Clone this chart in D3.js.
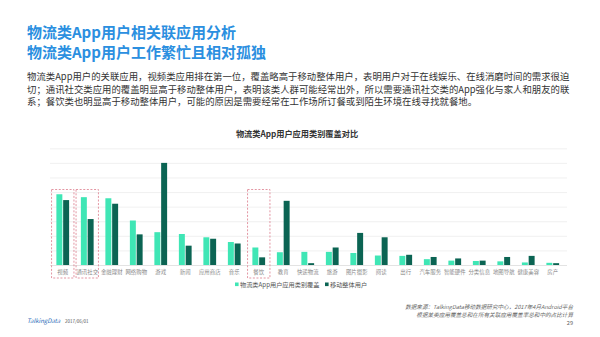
<!DOCTYPE html>
<html>
<head>
<meta charset="utf-8">
<script src="https://cdn.jsdelivr.net/npm/d3@7/dist/d3.min.js"></script>
<style>
  html, body { margin: 0; padding: 0; background: #fff; }
  svg { display: block; font-family: "Noto Sans CJK SC", "Noto Sans", sans-serif; }
</style>
</head>
<body>
<svg id="chart" width="600" height="337"></svg>
<script>
// App categories, in display order
const categories = ["视频", "通讯社交", "金融理财", "网络购物", "游戏", "新闻", "应用商店", "音乐", "餐饮", "教育",
  "快递物流", "旅游", "图片摄影", "阅读", "出行", "汽车服务", "智能硬件", "分类信息", "地图导航", "健康美容", "房产"];

// Coverage share (%) among logistics-app users
const logisticsUsers = [9.7, 9.3, 9.15, 6.1, 4.5, 4.25, 3.8, 3.15, 2.4, 1.75,
  1.8, 1.8, 1.65, 1.3, 1.25, 0.8, 0.6, 0.55, 0.5, 0.35, 0.3];

// Coverage share (%) among all mobile users
const mobileUsers = [8.9, 6.3, 8.4, 4.2, 14.0, 2.65, 3.6, 2.95, 1.05, 8.8,
  0.25, 2.4, 4.4, 3.8, 1.4, 1.1, 0.9, 0.6, 1.1, 1.25, 0.25];

const seriesNames = ["物流类App用户应用类别覆盖", "移动整体用户"];
const highlighted = ["视频", "通讯社交", "餐饮"];
const yTicks = [0, 2, 4, 6, 8, 10, 12, 14, 16];

const svg = d3.select("#chart");
const colors = ["#3fe6b5", "#0b6453"];

// Page headings
const headings = ["物流类App用户相关联应用分析", "物流类App用户工作繁忙且相对孤独"];
svg.selectAll("text.heading").data(headings).join("text")
  .attr("class", "heading")
  .attr("x", 27).attr("y", (d, i) => 38 + i * 19.5)
  .attr("font-size", 15).attr("font-weight", 700)
  .attr("fill", "#2b8fe0")
  .text(d => d);

// Description paragraph
const bodyLines = [
  "物流类App用户的关联应用，视频类应用排在第一位，覆盖略高于移动整体用户，表明用户对于在线娱乐、在线消磨时间的需求很迫",
  "切；通讯社交类应用的覆盖明显高于移动整体用户，表明该类人群可能经常出外，所以需要通讯社交类的App强化与家人和朋友的联",
  "系；餐饮类也明显高于移动整体用户，可能的原因是需要经常在工作场所订餐或到陌生环境在线寻找就餐地。"
];
svg.selectAll("text.body").data(bodyLines).join("text")
  .attr("class", "body")
  .attr("x", 27).attr("y", (d, i) => 80 + i * 12.5)
  .attr("font-size", 9.4)
  .attr("fill", "#333")
  .text(d => d);

// Chart title
svg.append("text")
  .attr("x", 297).attr("y", 137)
  .attr("text-anchor", "middle")
  .attr("font-size", 8.2).attr("font-weight", 700)
  .attr("fill", "#333")
  .text("物流类App用户应用类别覆盖对比");

// Scales
const x = d3.scaleBand().domain(categories).range([50.5, 565]).paddingInner(0).paddingOuter(0);
const y = d3.scaleLinear().domain([0, 16]).range([265, 148.3]);
const inner = d3.scaleBand().domain([0, 1]).range([x.bandwidth() * 0.24, x.bandwidth() * 0.76]).paddingInner(0.12);

// Horizontal gridlines
const grid = svg.append("g")
  .attr("transform", "translate(50,0)")
  .call(d3.axisLeft(y).tickValues(yTicks).tickSize(-517).tickFormat(""));
grid.select(".domain").remove();
grid.selectAll(".tick line").attr("stroke", "#ececec").attr("stroke-width", 0.8);
grid.selectAll(".tick").filter(d => d === 0).select("line").attr("stroke", "#dcdcdc");

// Bars
const rows = categories.map((c, i) => ({ c, v: [logisticsUsers[i], mobileUsers[i]] }));
const groups = svg.append("g").selectAll("g").data(rows).join("g")
  .attr("transform", d => `translate(${x(d.c)},0)`);
groups.selectAll("rect").data(d => d.v.map((v, k) => ({ v, k }))).join("rect")
  .attr("x", d => inner(d.k))
  .attr("width", inner.bandwidth())
  .attr("y", d => y(d.v))
  .attr("height", d => y(0) - y(d.v))
  .attr("fill", d => colors[d.k]);

// Category labels
const xAxis = svg.append("g")
  .attr("transform", `translate(0,${y(0)})`)
  .call(d3.axisBottom(x).tickSize(0).tickPadding(5));
xAxis.select(".domain").remove();
xAxis.selectAll("text")
  .attr("font-size", 5.4)
  .attr("fill", "#8a8a8a")
  .attr("font-family", "Noto Sans CJK SC, sans-serif");

// Dashed highlight boxes around key categories
svg.append("g").selectAll("rect").data(highlighted).join("rect")
  .attr("x", d => x(d) + x.bandwidth() / 2 - 11.2)
  .attr("y", 189.5)
  .attr("width", 22.4)
  .attr("height", 88.5)
  .attr("fill", "none")
  .attr("stroke", "#e08a98")
  .attr("stroke-width", 0.9)
  .attr("stroke-dasharray", "2,1.6");

// Legend
const legend = svg.append("g").attr("transform", "translate(235,286)");
const legendX = [0, 90];
seriesNames.forEach((name, i) => {
  legend.append("rect")
    .attr("x", legendX[i]).attr("y", -3.5)
    .attr("width", 3.6).attr("height", 3.6)
    .attr("fill", colors[i]);
  legend.append("text")
    .attr("x", legendX[i] + 5).attr("y", 0.5)
    .attr("font-size", 6.2)
    .attr("fill", "#555")
    .text(name);
});

// Source notes and page number
const notes = ["数据来源：TalkingData移动数据研究中心，2017年4月Android平台", "根据某类应用覆盖总和在所有关联应用覆盖率总和中的占比计算"];
svg.selectAll("text.note").data(notes).join("text")
  .attr("class", "note")
  .attr("x", 573).attr("y", (d, i) => 309 + i * 8)
  .attr("text-anchor", "end")
  .attr("font-size", 5.6)
  .attr("font-style", "italic")
  .attr("fill", "#666")
  .text(d => d);
svg.append("text")
  .attr("x", 573).attr("y", 325)
  .attr("text-anchor", "end")
  .attr("font-size", 5.6)
  .attr("fill", "#666")
  .text("29");

// Footer brand
svg.append("text")
  .attr("x", 27).attr("y", 323)
  .attr("font-size", 6).attr("font-style", "italic")
  .attr("fill", "#2b6cb8")
  .text("TalkingData");
svg.append("text")
  .attr("x", 65).attr("y", 323)
  .attr("font-size", 4.5)
  .attr("fill", "#555")
  .text("2017/06/01");
</script>
</body>
</html>
